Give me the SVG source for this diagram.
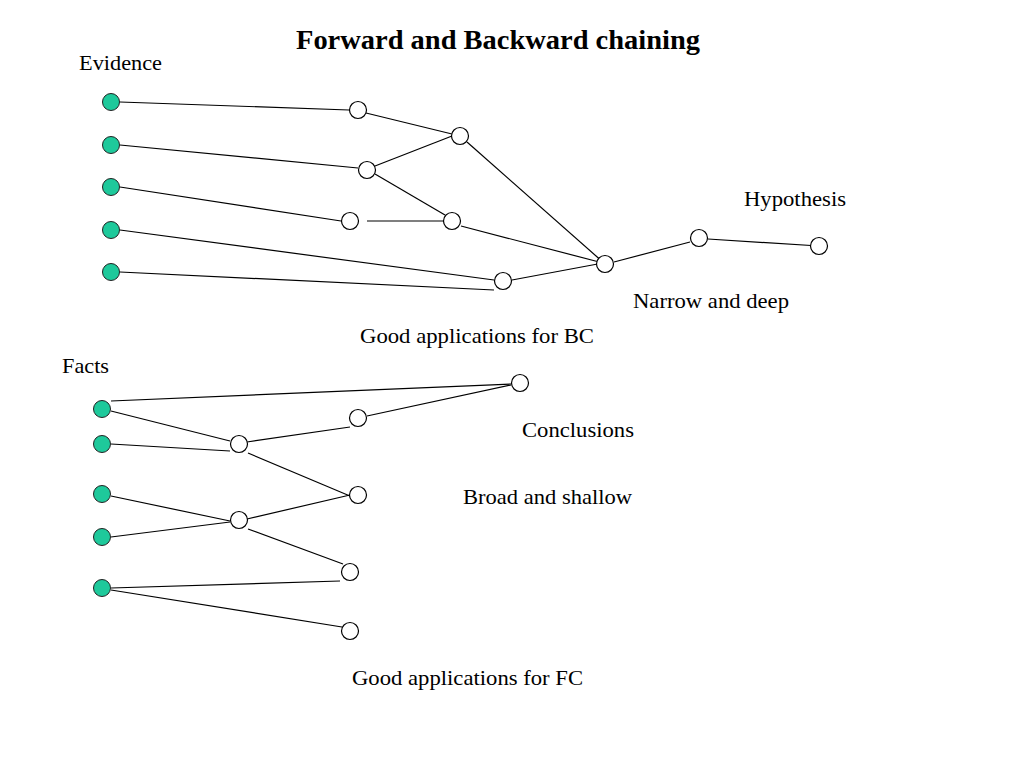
<svg xmlns="http://www.w3.org/2000/svg" width="1024" height="768" viewBox="0 0 1024 768">
<style>
.t{font-family:"Liberation Serif","Times New Roman",serif;font-size:21px;fill:#000}
.title{font-family:"Liberation Serif","Times New Roman",serif;font-size:27px;font-weight:bold;fill:#000}
.g{fill:#1ec99b;stroke:#222;stroke-width:1}
.w{fill:#fff;stroke:#000;stroke-width:1.2}
.c line{stroke:#000;stroke-width:1.2}
</style>
<rect width="1024" height="768" fill="#fff"/>
<text class="title" x="296" y="49" textLength="404" lengthAdjust="spacingAndGlyphs">Forward and Backward chaining</text>
<text class="t" x="79" y="70" textLength="83" lengthAdjust="spacingAndGlyphs">Evidence</text>
<text class="t" x="744" y="206" textLength="102" lengthAdjust="spacingAndGlyphs">Hypothesis</text>
<text class="t" x="633" y="308" textLength="156" lengthAdjust="spacingAndGlyphs">Narrow and deep</text>
<text class="t" x="360" y="343" textLength="234" lengthAdjust="spacingAndGlyphs">Good applications for BC</text>
<text class="t" x="62" y="373" textLength="47" lengthAdjust="spacingAndGlyphs">Facts</text>
<text class="t" x="522" y="437" textLength="112" lengthAdjust="spacingAndGlyphs">Conclusions</text>
<text class="t" x="463" y="504" textLength="169" lengthAdjust="spacingAndGlyphs">Broad and shallow</text>
<text class="t" x="352" y="685" textLength="231" lengthAdjust="spacingAndGlyphs">Good applications for FC</text>

<g id="connectors" class="c">
<!-- top (BC) -->
<line x1="120" y1="102" x2="349" y2="110"/>
<line x1="366" y1="113" x2="452" y2="134"/>
<line x1="120" y1="145" x2="358" y2="168"/>
<line x1="375" y1="166" x2="452" y2="136"/>
<line x1="375" y1="174" x2="445" y2="215"/>
<line x1="120" y1="187" x2="341" y2="221"/>
<line x1="367" y1="221" x2="443" y2="221"/>
<line x1="467" y1="142" x2="604" y2="263"/>
<line x1="461" y1="226" x2="603" y2="263"/>
<line x1="120" y1="230" x2="494" y2="280"/>
<line x1="120" y1="272" x2="494" y2="290"/>
<line x1="512" y1="280" x2="603" y2="263"/>
<line x1="614" y1="262" x2="690" y2="242"/>
<line x1="708" y1="239" x2="819" y2="246"/>
<!-- bottom (FC) -->
<line x1="111" y1="401" x2="511" y2="384"/>
<line x1="111" y1="411" x2="230" y2="441"/>
<line x1="111" y1="444" x2="230" y2="451"/>
<line x1="247" y1="442" x2="350" y2="427"/>
<line x1="367" y1="416" x2="511" y2="385"/>
<line x1="248" y1="453" x2="350" y2="496"/>
<line x1="111" y1="496" x2="230" y2="521"/>
<line x1="111" y1="537" x2="230" y2="522"/>
<line x1="247" y1="519" x2="350" y2="495"/>
<line x1="248" y1="529" x2="343" y2="564"/>
<line x1="111" y1="588" x2="340" y2="581"/>
<line x1="111" y1="590" x2="342" y2="627"/>
</g>

<g id="e1"><circle class="g" cx="111" cy="102" r="8.5"/></g>
<g id="e2"><circle class="g" cx="111" cy="145" r="8.5"/></g>
<g id="e3"><circle class="g" cx="111" cy="187" r="8.5"/></g>
<g id="e4"><circle class="g" cx="111" cy="230" r="8.5"/></g>
<g id="e5"><circle class="g" cx="111" cy="272" r="8.5"/></g>
<g id="nA"><circle class="w" cx="358" cy="110" r="8.5"/></g>
<g id="nB"><circle class="w" cx="460" cy="136" r="8.5"/></g>
<g id="nC"><circle class="w" cx="367" cy="170" r="8.5"/></g>
<g id="nD"><circle class="w" cx="350" cy="221" r="8.5"/></g>
<g id="nE"><circle class="w" cx="452" cy="221" r="8.5"/></g>
<g id="nF"><circle class="w" cx="503" cy="281" r="8.5"/></g>
<g id="nG"><circle class="w" cx="605" cy="264" r="8.5"/></g>
<g id="nH"><circle class="w" cx="699" cy="238" r="8.5"/></g>
<g id="nI"><circle class="w" cx="819" cy="246" r="8.5"/></g>

<g id="f1"><circle class="g" cx="102" cy="409" r="8.5"/></g>
<g id="f2"><circle class="g" cx="102" cy="444" r="8.5"/></g>
<g id="f3"><circle class="g" cx="102" cy="494" r="8.5"/></g>
<g id="f4"><circle class="g" cx="102" cy="537" r="8.5"/></g>
<g id="f5"><circle class="g" cx="102" cy="588" r="8.5"/></g>
<g id="nP"><circle class="w" cx="520" cy="383" r="8.5"/></g>
<g id="nQ"><circle class="w" cx="358" cy="418" r="8.5"/></g>
<g id="nR"><circle class="w" cx="239" cy="444" r="8.5"/></g>
<g id="nS"><circle class="w" cx="358" cy="495" r="8.5"/></g>
<g id="nT"><circle class="w" cx="239" cy="520" r="8.5"/></g>
<g id="nU"><circle class="w" cx="350" cy="572" r="8.5"/></g>
<g id="nV"><circle class="w" cx="350" cy="631" r="8.5"/></g>
</svg>
